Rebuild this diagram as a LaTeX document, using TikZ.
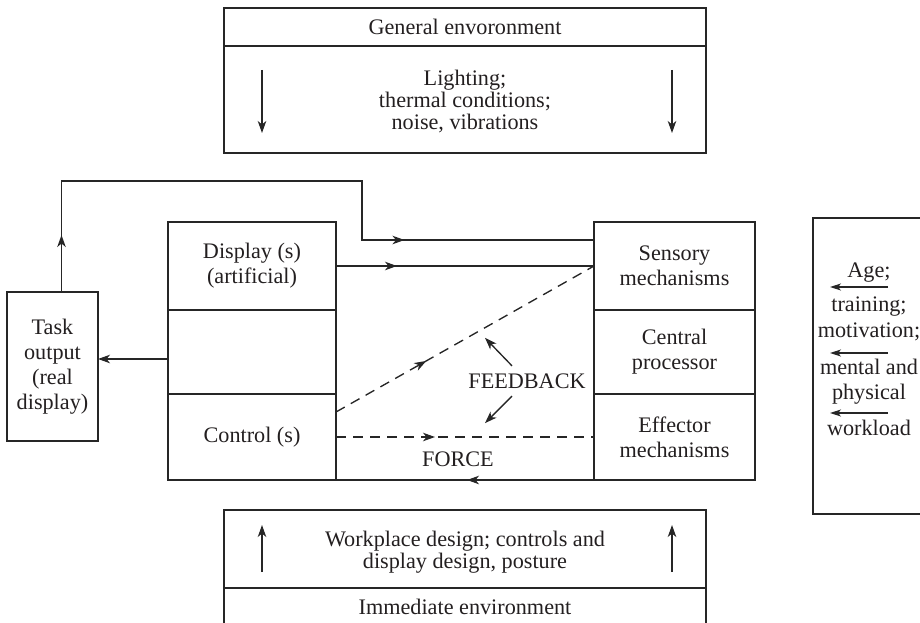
\documentclass[tikz,border=0pt]{standalone}
\usepackage{fontspec}
\setmainfont{Liberation Serif}
\usetikzlibrary{arrows.meta,decorations.markings}
\definecolor{linec}{HTML}{262626}
\definecolor{textc}{HTML}{231F20}
\begin{document}
\begin{tikzpicture}[x=1pt,y=-1pt,line width=1.35pt,draw=linec,text=textc,
  box/.style={draw=linec,inner sep=0pt,outer sep=0pt,align=center,
    font=\fontsize{22.2}{25}\selectfont},
  envtext/.style={inner sep=0pt,align=center,font=\fontsize{22.2}{21.7}\selectfont},
  label/.style={inner sep=0pt,font=\fontsize{22.2}{25}\selectfont},
  arr/.style={-{Stealth[length=12pt,width=8.5pt,inset=3.5pt]}},
  smallarr/.style={-{Stealth[length=11pt,width=7pt,inset=3pt]}},
  midarrow/.style={postaction={decorate},decoration={markings,
    mark=at position #1 with {\arrow{Stealth[length=12pt,width=8.5pt,inset=3.5pt]}}}},
  dashline/.style={dash pattern=on 10pt off 7pt}]
\clip (0,0) rectangle (920,623);

% general environment (top)
\node[box,minimum width=482,minimum height=38] (gtitle) at (465,27) {};
\node[envtext] at (gtitle.center) {General envoronment};
\node[box,minimum width=482,minimum height=107] (gbody) at (465,99.5) {};
\node[envtext] at (465,101.5) {Lighting;\\thermal conditions;\\noise, vibrations};
\coordinate (gl1) at (262,70);  \coordinate (gl2) at (262,133);
\coordinate (gr1) at (672,70);  \coordinate (gr2) at (672,133);
\draw[arr] (gl1) -- (gl2);
\draw[arr] (gr1) -- (gr2);

% task output
\node[box,minimum width=91,minimum height=149] (task) at (52.5,366.5)
  {Task\\output\\(real\\display)};

% machine side: displays and controls
\node[box,minimum width=168,minimum height=88] (disp) at (252,266) {Display (s)\\(artificial)};
\node[box,minimum width=168,minimum height=84] (mid) at (252,352) {};
\node[box,minimum width=168,minimum height=86] (ctrl) at (252,437) {Control (s)};

% human side
\node[box,minimum width=161,minimum height=88] (sens) at (674.5,266) {Sensory\\mechanisms};
\node[box,minimum width=161,minimum height=84] (cproc) at (674.5,352) {Central\\processor};
\node[box,minimum width=161,minimum height=86] (eff) at (674.5,437) {Effector\\mechanisms};

% personal factors
\node[box,minimum width=127,minimum height=296] (pers) at (876.5,366) {};
\foreach \txt/\yy [count=\i] in {Age;/277,training;/311,motivation;/337,
    mental and/374,physical/399,workload/435}{
  \node[label,anchor=base] (pf\i) at (869,\yy) {\txt};
}
\foreach \yy [count=\i] in {287,353,413}{
  \coordinate (pa\i) at (888,\yy);
  \coordinate (pb\i) at (830,\yy);
  \draw[smallarr] (pa\i) -- (pb\i);
}

% immediate environment (bottom)
\node[box,minimum width=482,minimum height=78] (ibody) at (465,549) {};
\node[envtext] at (465,552.5) {Workplace design; controls and\\display design, posture};
\node[box,minimum width=482,minimum height=38] (ititle) at (465,607) {};
\node[envtext] at (ititle.center) {Immediate environment};
\coordinate (il1) at (262,572);  \coordinate (il2) at (262,525);
\coordinate (ir1) at (672,572);  \coordinate (ir2) at (672,525);
\draw[arr] (il1) -- (il2);
\draw[arr] (ir1) -- (ir2);

% connectors
\coordinate (bend) at (362,181);
\draw[postaction={decorate},decoration={markings,
    mark=at position 57pt with {\arrow{Stealth[length=12pt,width=8.5pt,inset=3.5pt]}},
    mark=at position 513pt with {\arrow{Stealth[length=12pt,width=8.5pt,inset=3.5pt]}}}]
  ([xshift=9pt]task.north) |- (bend) |- ([yshift=-18pt]sens.north west);
\draw[midarrow=61pt] (disp.east) -- (sens.west);
\draw[arr] ([yshift=-7pt]mid.west) -- ([yshift=-7pt]mid.west -| task.east);
\draw[dashline,midarrow=0.35] ([yshift=25pt]ctrl.east) -- (sens.west);
\draw[dashline,midarrow=99pt] (ctrl.east) -- (eff.west);
\draw[midarrow=127pt] (eff.south west) -- (ctrl.south east);

% labels
\node[label] (fb) at (527,381) {FEEDBACK};
\draw[arr] (fb.north) ++(-15,-7) -- ++(-27,-28);
\draw[arr] (fb.south) ++(-15,7) -- ++(-27,27);
\node[label] (force) at (458,459) {FORCE};
\end{tikzpicture}
\end{document}
